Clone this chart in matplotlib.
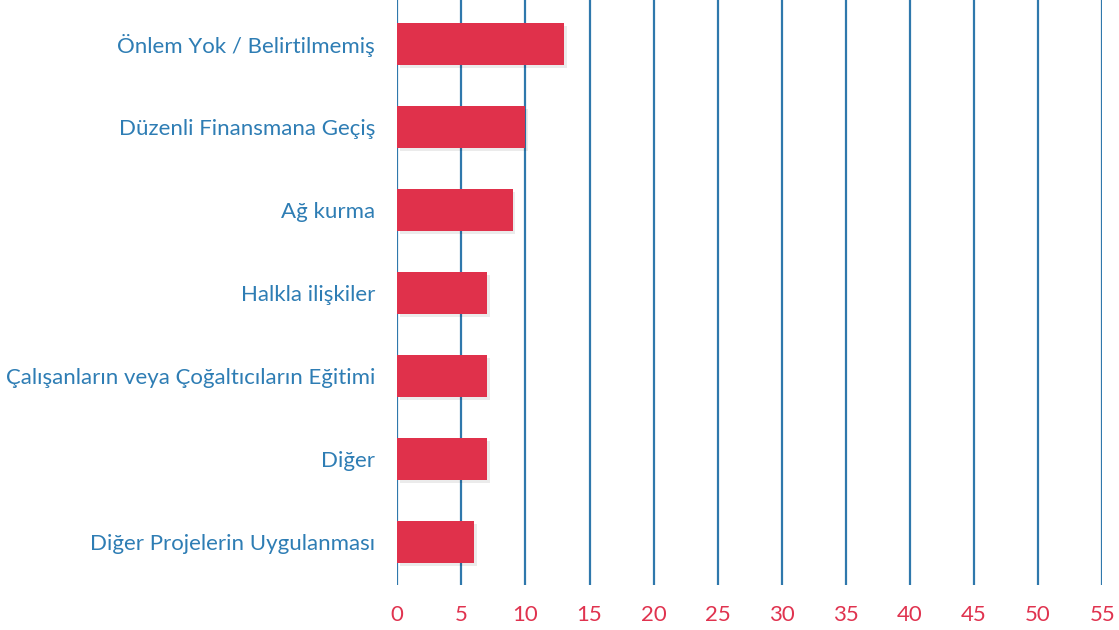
import matplotlib
matplotlib.use("Agg")
import matplotlib.pyplot as plt
import matplotlib.patheffects as pe

categories = [
    "Önlem Yok / Belirtilmemiş",
    "Düzenli Finansmana Geçiş",
    "Ağ kurma",
    "Halkla ilişkiler",
    "Çalışanların veya Çoğaltıcıların Eğitimi",
    "Diğer",
    "Diğer Projelerin Uygulanması",
]
values = [13, 10, 9, 7, 7, 7, 6]
xticks = list(range(0, 56, 5))

BAR = "#E0314B"
LABEL = "#2E7DB4"
GRID = "#2F78AC"
TICK = "#E0334F"

plt.rcParams["font.family"] = ["Lato", "DejaVu Sans"]

fig = plt.figure(figsize=(11.19, 6.30), dpi=100)
ax = fig.add_axes([0.355, 0.071, 0.630, 0.929])

ypos = list(range(len(categories)))
bars = ax.barh(ypos, values, height=0.5, color=BAR, zorder=3)
for b in bars:
    b.set_path_effects([pe.SimplePatchShadow(offset=(2, -2), shadow_rgbFace="#000000", alpha=0.08),
                        pe.Normal()])

ax.set_xlim(0, 55)
ax.set_ylim(6.52, -0.53)
ax.set_xticks(xticks)
ax.set_xticklabels([str(t) for t in xticks], color=TICK, fontsize=16)
ax.set_yticks(ypos)
ax.set_yticklabels(categories, color=LABEL, fontsize=16)
ax.tick_params(axis="both", length=0)
ax.tick_params(axis="x", pad=14)
ax.tick_params(axis="y", pad=16)

for t in xticks:
    ax.axvline(t, color=GRID, linewidth=1.6, zorder=1)

for s in ax.spines.values():
    s.set_visible(False)

fig.savefig("out.png", dpi=100, facecolor="white")
